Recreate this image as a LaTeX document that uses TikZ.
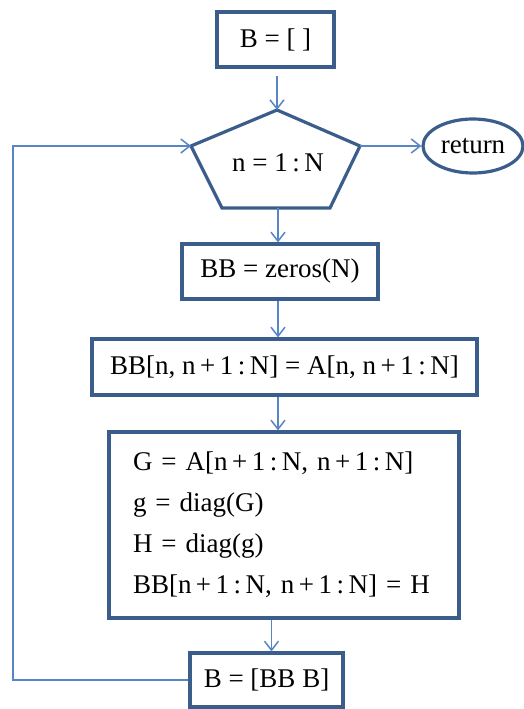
\documentclass[tikz,border=0pt]{standalone}
\usepackage{fontspec}
\setmainfont{Liberation Serif}
\usepackage{tikz}
\usetikzlibrary{arrows.meta,shapes.geometric}
\definecolor{boxblue}{HTML}{3A5D8B}
\definecolor{linkblue}{HTML}{5886C4}

\begin{document}
\begin{tikzpicture}[x=1pt,y=-1pt,
		stepbox/.style={draw=boxblue,line width=3.2pt,rectangle,inner sep=0pt,font=\fontsize{27}{30}\selectfont},
		endbox/.style={draw=boxblue,line width=3.2pt,ellipse,inner sep=0pt,minimum width=100pt,minimum height=54pt,font=\fontsize{27}{30}\selectfont},
		link/.style={draw=linkblue,line width=1.5pt,-{Straight Barb[length=9pt,width=14pt]}}]
		\useasboundingbox (0,0) rectangle (524,709);
		% pentagon corners
		\coordinate (PT) at (277,110);
		\coordinate (PL) at (191,146);
		\coordinate (PR) at (360,146);
		\coordinate (PBL) at (222,208);
		\coordinate (PBR) at (330,208);
		\coordinate (PB) at (278,208);
		\coordinate (bend) at (13,146);

		\node[stepbox,minimum width=117pt,minimum height=55pt] (init) at (275.5,39.5) {B = [ ]};
		\draw[draw=boxblue,line width=3.2pt,line join=miter] (PT) -- (PR) -- (PBR) -- (PBL) -- (PL) -- cycle;
		\node[font=\fontsize{27}{30}\selectfont] (loop) at (278,163) {n = 1\,:\,N};
		\node[endbox] (ret) at (473,146) {return};
		\node[stepbox,minimum width=196pt,minimum height=55pt] (zero) at (280,271.5) {BB = zeros(N)};
		\node[stepbox,minimum width=385pt,minimum height=56pt] (row) at (284.5,367) {BB[n, n\,+\,1\,:\,N] = A[n, n\,+\,1\,:\,N]};
		\node[stepbox,minimum width=350pt,minimum height=186pt,text width=302pt,align=left,font=\fontsize{27}{41}\selectfont] (blk) at (284,525)
			{G = A[n\,+\,1\,:\,N, n\,+\,1\,:\,N]\\
			 g = diag(G)\\
			 H = diag(g)\\
			 BB[n\,+\,1\,:\,N, n\,+\,1\,:\,N] = H};
		\node[stepbox,minimum width=153pt,minimum height=54pt] (glue) at (266.5,680) {B = [BB B]};

		\draw[link,shorten <=7pt] (init.south -| PT) -- (PT);
		\draw[link] (PR) -- (ret.west);
		\draw[link] (PB) -- (zero.north -| PB);
		\draw[link] (zero.south -| PB) -- (row.north -| PB);
		\draw[link] (row.south -| PB) -- (blk.north -| PB);
		\draw[link] ([xshift=5pt]blk.south -| glue) -- ([xshift=5pt]glue.north);
		\draw[link] (glue.west) -| (bend) -- (PL);
	\end{tikzpicture}
\end{document}
